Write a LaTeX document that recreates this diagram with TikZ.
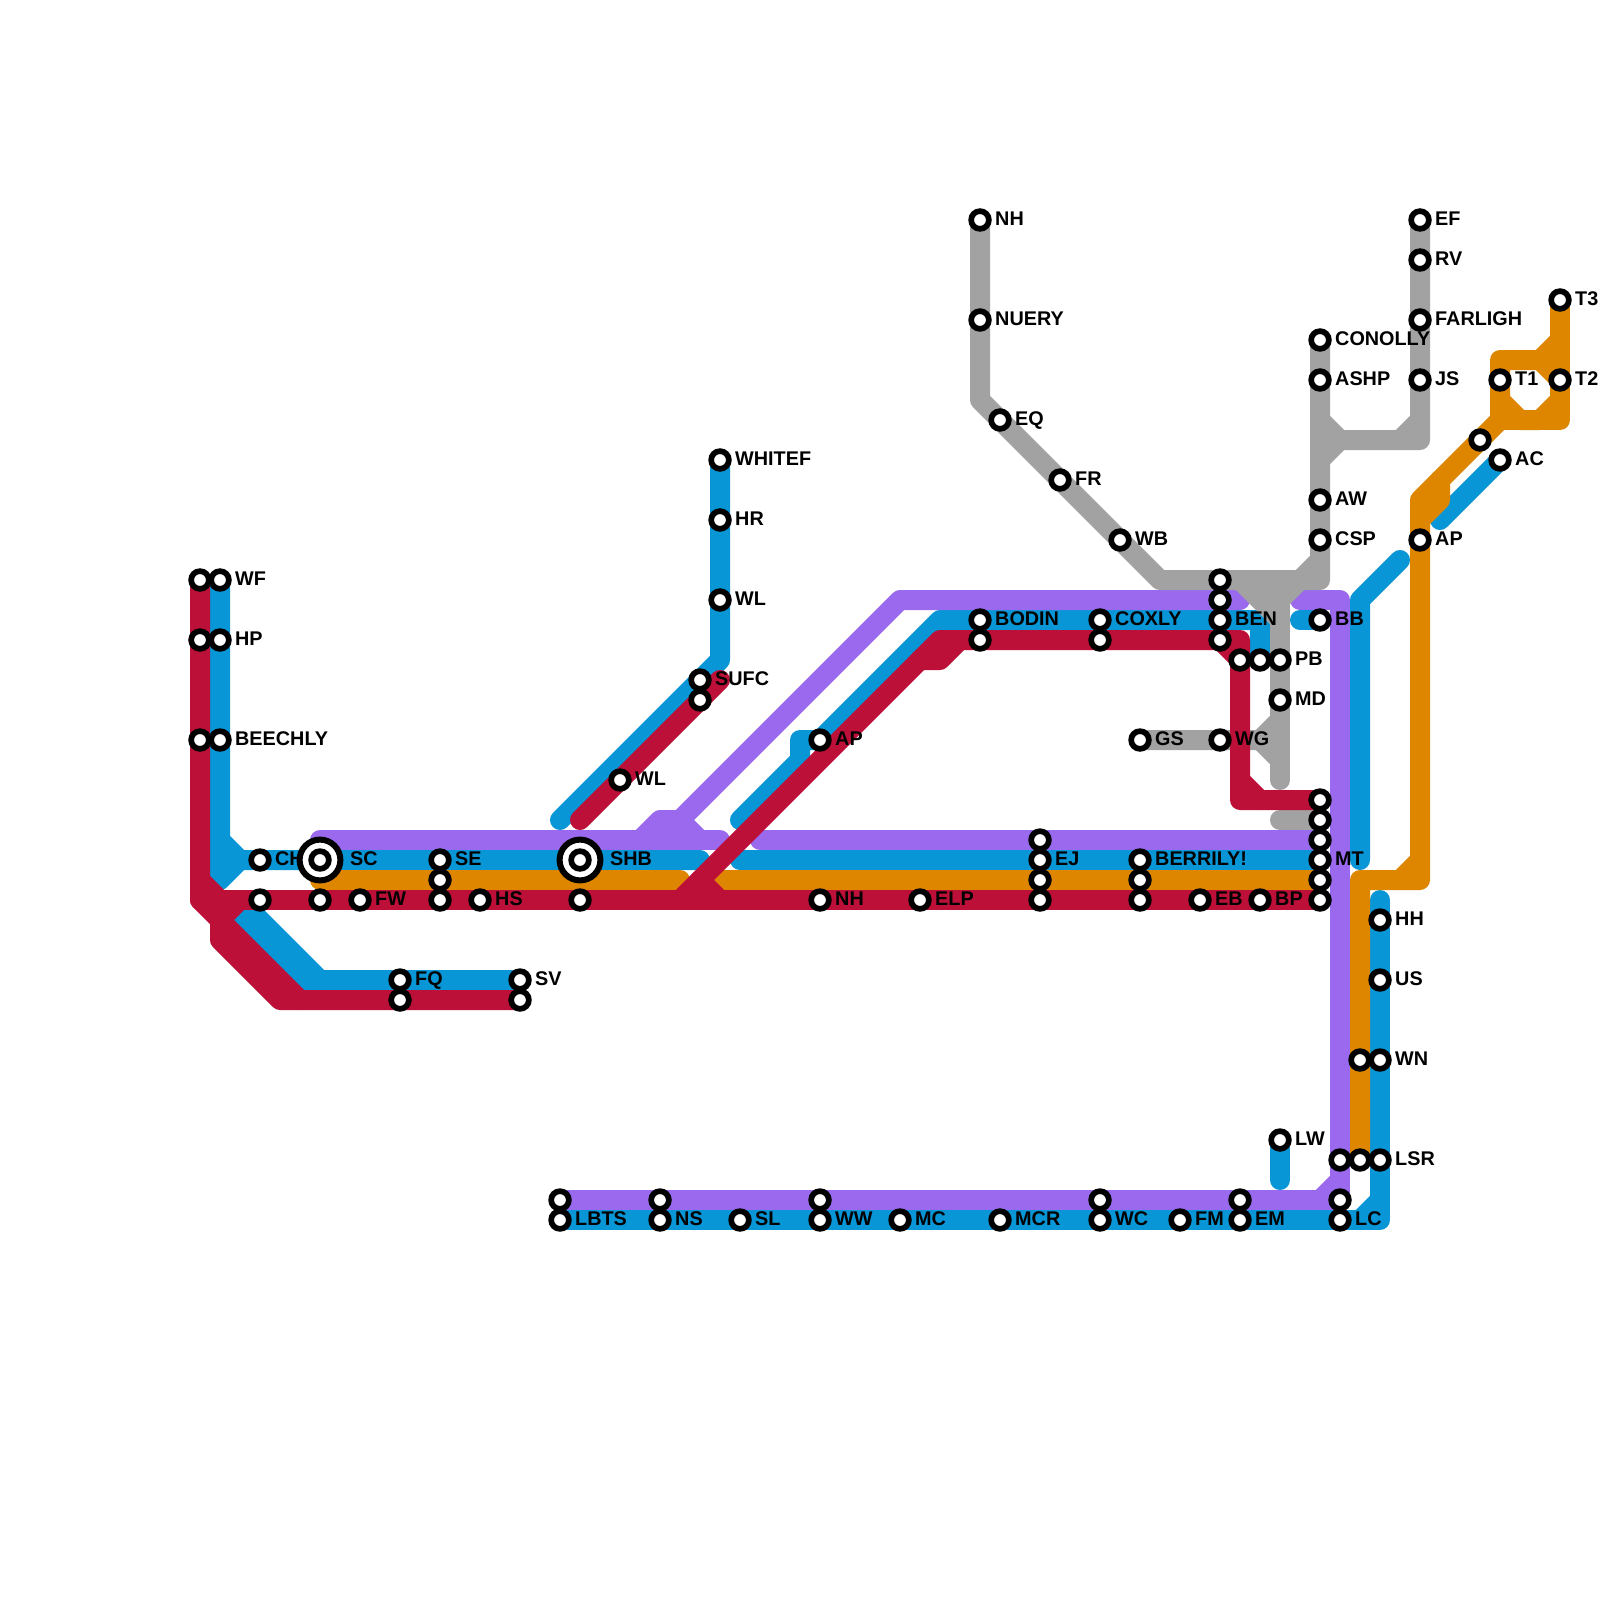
\documentclass[tikz,border=0pt]{standalone}
\usepackage{fontspec}
\setmainfont{Liberation Sans}
\definecolor{mred}{HTML}{BD1038}
\definecolor{mblue}{HTML}{0896D7}
\definecolor{morange}{HTML}{DF8600}
\definecolor{mgray}{HTML}{A2A2A2}
\definecolor{mpurple}{HTML}{9A69ED}
\tikzset{
  railline/.style={line width=20pt,line cap=round,line join=round},
  stn/.style={circle,draw=black,fill=white,line width=5.7pt,minimum size=17.7pt,inner sep=0pt},
  bigstn/.style={circle,draw=black,fill=white,line width=6pt,minimum size=40.8pt,inner sep=0pt},
  lbl/.style={anchor=base west,inner sep=0pt,font=\fontsize{19.8}{21}\selectfont\bfseries,text=black}
}
\newcommand{\lab}[4]{\node[lbl] (#1) at (#2+15,#3+5) {#4};}
\newcommand{\biglab}[4]{\node[lbl] (#1) at (#2+30,#3+5) {#4};}
\begin{document}
\begin{tikzpicture}[x=1pt,y=-1pt]
\useasboundingbox (0,0) rectangle (1600,1600);
\fill[white] (0,0) rectangle (1600,1600);
% blue
\begin{scope}[railline,draw=mblue]
\draw (220,580)--(220,840)--(240,860)--(700,860);
\draw (220,840)--(220,880)--(240,860);
\draw (240,900)--(320,980);
\draw (520,980)--(300,980)--(240,920);
\draw (560,820)--(720,660)--(720,460);
\draw (740,820)--(800,760)--(800,740)--(820,740)--(940,620)--(1260,620)--(1260,660);
\draw (740,860)--(1320,860);
\draw (1300,620)--(1320,620);
\draw (1400,560)--(1360,600)--(1360,860);
\draw (1440,520)--(1500,460);
\draw (1280,1140)--(1280,1180);
\draw (560,1220)--(1380,1220)--(1380,900);
\draw (1360,1220)--(1380,1200);
\end{scope}
% orange
\begin{scope}[railline,draw=morange]
\draw (320,880)--(680,880);
\draw (720,880)--(1320,880);
\draw (1360,1160)--(1360,880)--(1420,880)--(1420,500)--(1500,420)--(1500,360)--(1540,360)--(1560,340);
\draw (1400,880)--(1420,860);
\draw (1440,480)--(1440,500)--(1420,520);
\draw (1500,400)--(1520,420)--(1540,420)--(1560,400);
\draw (1500,420)--(1560,420)--(1560,300);
\draw (1540,360)--(1560,380);
\end{scope}
% purple
\begin{scope}[railline,draw=mpurple]
\draw (320,840)--(720,840);
\draw (760,840)--(1320,840);
\draw (640,840)--(660,820)--(680,820)--(900,600)--(1240,600);
\draw (680,820)--(700,840);
\draw (1300,600)--(1340,600)--(1340,1200)--(560,1200);
\draw (1320,1200)--(1340,1180);
\end{scope}
% gray
\begin{scope}[railline,draw=mgray]
\draw (980,220)--(980,400)--(1160,580)--(1320,580)--(1320,340);
\draw (1300,580)--(1320,560);
\draw (1240,580)--(1280,620);
\draw (1260,580)--(1280,600);
\draw (1300,580)--(1280,600);
\draw (1280,580)--(1280,780);
\draw (1140,740)--(1260,740)--(1280,720);
\draw (1260,740)--(1280,760);
\draw (1280,820)--(1320,820);
\draw (1420,220)--(1420,440)--(1340,440)--(1320,420);
\draw (1340,440)--(1320,460);
\draw (1420,420)--(1400,440);
\end{scope}
% red
\begin{scope}[railline,draw=mred]
\draw (200,580)--(200,900)--(300,1000)--(520,1000);
\draw (220,920)--(220,940)--(280,1000)--(300,1000);
\draw (220,920)--(240,900);
\draw (200,880)--(220,900);
\draw (200,900)--(1320,900);
\draw (580,820)--(720,680);
\draw (680,900)--(940,640)--(1240,640)--(1240,800)--(1320,800);
\draw (700,880)--(720,900);
\draw (920,660)--(940,660)--(960,640);
\draw (1220,640)--(1240,660);
\draw (1240,780)--(1260,800);
\end{scope}
% labels
\lab{lWF}{220}{580}{WF}
\lab{lHP}{220}{640}{HP}
\lab{lBE}{220}{740}{BEECHLY}
\lab{lCH}{260}{860}{CH}
\biglab{lSC}{320}{860}{SC}
\lab{lFW}{360}{900}{FW}
\lab{lSE}{440}{860}{SE}
\lab{lHS}{480}{900}{HS}
\lab{lFQ}{400}{980}{FQ}
\lab{lSV}{520}{980}{SV}
\biglab{lSHB}{580}{860}{SHB}
\lab{lWLa}{620}{780}{WL}
\lab{lSUFC}{700}{680}{SUFC}
\lab{lWH}{720}{460}{WHITEF}
\lab{lHR}{720}{520}{HR}
\lab{lWLb}{720}{600}{WL}
\lab{lAPa}{820}{740}{AP}
\lab{lNHa}{820}{900}{NH}
\lab{lELP}{920}{900}{ELP}
\lab{lBOD}{980}{620}{BODIN}
\lab{lNHb}{980}{220}{NH}
\lab{lNU}{980}{320}{NUERY}
\lab{lEQ}{1000}{420}{EQ}
\lab{lFR}{1060}{480}{FR}
\lab{lWB}{1120}{540}{WB}
\lab{lEJ}{1040}{860}{EJ}
\lab{lCOX}{1100}{620}{COXLY}
\lab{lBER}{1140}{860}{BERRILY!}
\lab{lGS}{1140}{740}{GS}
\lab{lWG}{1220}{740}{WG}
\lab{lEB}{1200}{900}{EB}
\lab{lBP}{1260}{900}{BP}
\lab{lBEN}{1220}{620}{BEN}
\lab{lPB}{1280}{660}{PB}
\lab{lMD}{1280}{700}{MD}
\lab{lBB}{1320}{620}{BB}
\lab{lCON}{1320}{340}{CONOLLY}
\lab{lASH}{1320}{380}{ASHP}
\lab{lAW}{1320}{500}{AW}
\lab{lCSP}{1320}{540}{CSP}
\lab{lEF}{1420}{220}{EF}
\lab{lRV}{1420}{260}{RV}
\lab{lFAR}{1420}{320}{FARLIGH}
\lab{lJS}{1420}{380}{JS}
\lab{lAPb}{1420}{540}{AP}
\lab{lAC}{1500}{460}{AC}
\lab{lT1}{1500}{380}{T1}
\lab{lT2}{1560}{380}{T2}
\lab{lT3}{1560}{300}{T3}
\lab{lMT}{1320}{860}{MT}
\lab{lHH}{1380}{920}{HH}
\lab{lUS}{1380}{980}{US}
\lab{lWN}{1380}{1060}{WN}
\lab{lLSR}{1380}{1160}{LSR}
\lab{lLW}{1280}{1140}{LW}
\lab{lLB}{560}{1220}{LBTS}
\lab{lNS}{660}{1220}{NS}
\lab{lSL}{740}{1220}{SL}
\lab{lWW}{820}{1220}{WW}
\lab{lMC}{900}{1220}{MC}
\lab{lMCR}{1000}{1220}{MCR}
\lab{lWC}{1100}{1220}{WC}
\lab{lFM}{1180}{1220}{FM}
\lab{lEM}{1240}{1220}{EM}
\lab{lLC}{1340}{1220}{LC}
% big stations
\node[bigstn] (bSC) at (320,860) {};
\node[bigstn] (bSHB) at (580,860) {};
% stations
\foreach \x/\y in {200/580,220/580,200/640,220/640,200/740,220/740,
 260/860,260/900,320/860,320/900,360/900,440/860,440/880,440/900,480/900,
 400/980,400/1000,520/980,520/1000,580/860,580/900,620/780,700/680,700/700,
 720/460,720/520,720/600,820/740,820/900,920/900,980/620,980/640,980/220,980/320,
 1000/420,1060/480,1120/540,1040/840,1040/860,1040/880,1040/900,1100/620,1100/640,
 1140/860,1140/880,1140/900,1140/740,1220/740,1200/900,1260/900,
 1220/580,1220/600,1220/620,1220/640,1240/660,1260/660,1280/660,1280/700,
 1320/620,1320/340,1320/380,1320/500,1320/540,1420/220,1420/260,1420/320,1420/380,
 1420/540,1480/440,1500/460,1500/380,1560/380,1560/300,
 1320/800,1320/820,1320/840,1320/860,1320/880,1320/900,
 1380/920,1380/980,1360/1060,1380/1060,1340/1160,1360/1160,1380/1160,1280/1140,
 560/1200,560/1220,660/1200,660/1220,740/1220,820/1200,820/1220,900/1220,1000/1220,
 1100/1200,1100/1220,1180/1220,1240/1200,1240/1220,1340/1200,1340/1220}
 {\node[stn] (s\x-\y) at (\x,\y) {};}
\end{tikzpicture}
\end{document}
